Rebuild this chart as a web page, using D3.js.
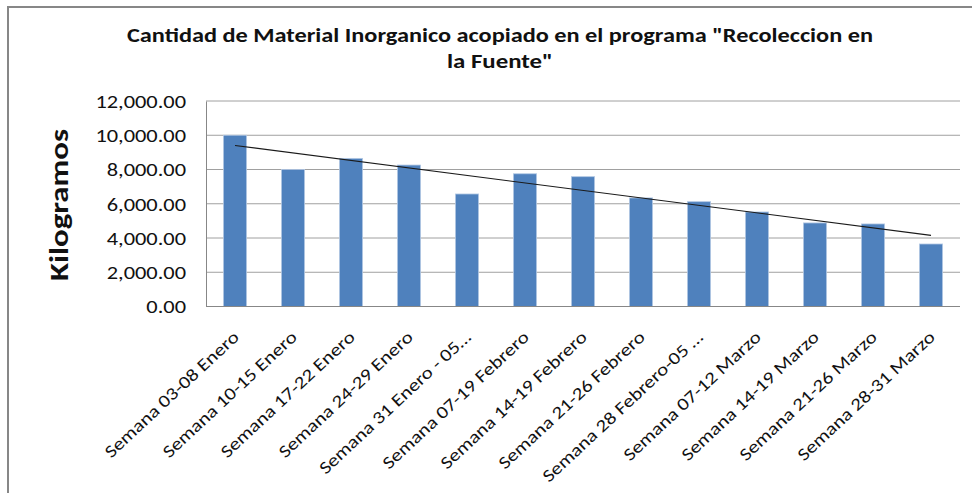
<!DOCTYPE html>
<html>
<head>
<meta charset="utf-8">
<script src="https://cdn.jsdelivr.net/npm/d3@7"></script>
<style>
  body { margin: 0; background: #fff; }
  text { font-family: Carlito, Calibri, Lato, sans-serif; fill: #111; }
</style>
</head>
<body>
<div id="chart"></div>
<script>
var semanas = ["Semana 03-08 Enero", "Semana 10-15 Enero", "Semana 17-22 Enero", "Semana 24-29 Enero",
  "Semana 31 Enero - 05\u2026", "Semana 07-19 Febrero", "Semana 14-19 Febrero", "Semana 21-26 Febrero",
  "Semana 28 Febrero-05 \u2026", "Semana 07-12 Marzo", "Semana 14-19 Marzo", "Semana 21-26 Marzo",
  "Semana 28-31 Marzo"];
var kilos = [10000, 8000, 8650, 8260, 6570, 7750, 7580, 6340, 6120, 5520, 4880, 4820, 3650];
var yTicks = [0, 2000, 4000, 6000, 8000, 10000, 12000];
var titulo = ["Cantidad de Material Inorganico acopiado en el programa \"Recoleccion en", "la Fuente\""];

var W = 972, H = 493;
var margin = { top: 101, right: 12, bottom: 186.5, left: 206 };
var width = W - margin.left - margin.right,
  height = H - margin.top - margin.bottom;

var svg = d3.select("#chart").append("svg")
  .attr("width", W)
  .attr("height", H);

svg.append("rect").attr("width", W).attr("height", H).attr("fill", "#fff");

// marco del grafico (solo se ve arriba y a la izquierda)
svg.append("path")
  .attr("d", "M8," + H + "V7H" + W)
  .attr("fill", "none")
  .attr("stroke", "#878787")
  .attr("stroke-width", 2);

var g = svg.append("g")
  .attr("transform", "translate(" + margin.left + "," + margin.top + ")");

var x = d3.scaleBand().domain(semanas).range([0, width])
  .paddingInner(0.6).paddingOuter(0.3);
var y = d3.scaleLinear().domain([0, 12000]).range([height, 0]);

// lineas de division
g.selectAll(".grid").data(yTicks.slice(1)).enter().append("line")
  .attr("x1", 0).attr("x2", width)
  .attr("y1", d => y(d)).attr("y2", d => y(d))
  .attr("stroke", "#a0a0a0")
  .attr("stroke-width", 1);

// barras
g.selectAll(".bar").data(kilos).enter().append("rect")
  .attr("x", (d, i) => x(semanas[i]))
  .attr("y", d => y(d))
  .attr("width", x.bandwidth())
  .attr("height", d => height - y(d))
  .attr("fill", "#4f81bd")
  .attr("stroke", "#b3c8e4")
  .attr("stroke-width", 0.8);

// linea de tendencia (regresion lineal)
var n = kilos.length;
var mx = d3.mean(kilos, (d, i) => i);
var my = d3.mean(kilos);
var sxy = d3.sum(kilos, (d, i) => (i - mx) * (d - my));
var sxx = d3.sum(kilos, (d, i) => (i - mx) * (i - mx));
var pend = sxy / sxx;
var trend = [0, n - 1].map(i => [x(semanas[i]) + x.bandwidth() / 2, y(my + pend * (i - mx))]);
g.append("path")
  .attr("d", d3.line()(trend))
  .attr("stroke", "#1a1a1a")
  .attr("stroke-width", 1.1)
  .attr("fill", "none");

// ejes
var yAxis = d3.axisLeft(y).tickValues(yTicks).tickSize(0).tickPadding(0)
  .tickFormat(d3.format(",.2f"));
var ya = g.append("g").call(yAxis);
ya.select(".domain").attr("stroke", "#878787");
ya.selectAll("text")
  .attr("x", -20 / 1.28)
  .attr("dy", "0.36em")
  .attr("transform", "scale(1.28,1)")
  .style("font-size", "17.5px")
  .style("font-family", "Carlito, Calibri, Lato, sans-serif")
  .style("fill", "#111");

g.append("line")
  .attr("x1", 0).attr("x2", width)
  .attr("y1", height).attr("y2", height)
  .attr("stroke", "#878787");

// etiquetas de categoria
g.selectAll(".xlab").data(semanas).enter().append("text")
  .attr("text-anchor", "end")
  .attr("transform", d => "translate(" + (x(d) + x.bandwidth() / 2 + 5) + "," + (height + 32) + ") rotate(-43) scale(1.2,1)")
  .style("font-size", "17.5px")
  .text(d => d);

// titulo eje y
svg.append("text")
  .attr("transform", "translate(68,205) rotate(-90)")
  .attr("text-anchor", "middle")
  .attr("textLength", 152)
  .attr("lengthAdjust", "spacingAndGlyphs")
  .style("font-size", "27px")
  .style("font-weight", "bold")
  .text("Kilogramos");

// titulo
svg.selectAll(".tit").data(titulo).enter().append("text")
  .attr("x", 500)
  .attr("y", (d, i) => 42 + i * 26)
  .attr("text-anchor", "middle")
  .attr("textLength", (d, i) => i == 0 ? 746 : 106)
  .attr("lengthAdjust", "spacingAndGlyphs")
  .style("font-size", "21px")
  .style("font-weight", "bold")
  .text(d => d);
</script>
</body>
</html>
